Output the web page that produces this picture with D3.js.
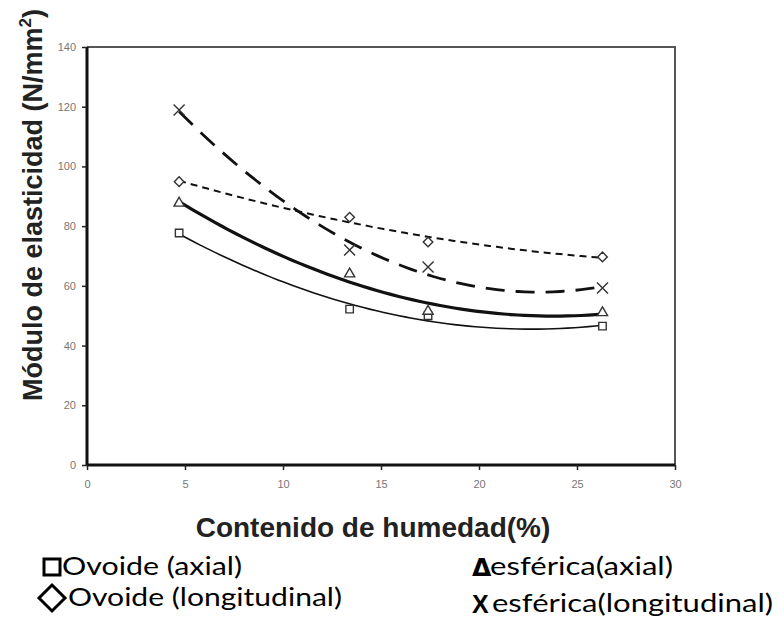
<!DOCTYPE html>
<html>
<head>
<meta charset="utf-8">
<script src="https://cdn.jsdelivr.net/npm/d3@7/dist/d3.min.js"></script>
<style>
  html, body { margin: 0; padding: 0; background: #fff; }
  svg { display: block; }
</style>
</head>
<body>
<svg id="chart" width="779" height="632"></svg>
<script>
// ---- data ----
const humedad = [4.7, 13.4, 17.4, 26.3];
const ovoideAxial = [77.7, 52.2, 50.0, 46.5];
const esfericaAxial = [87.7, 64.0, 51.5, 51.0];
const ovoideLongitudinal = [94.9, 83.0, 74.7, 69.7];
const esfericaLongitudinal = [118.9, 72.0, 66.3, 59.3];
const xTicks = [0, 5, 10, 15, 20, 25, 30];
const yTicks = [0, 20, 40, 60, 80, 100, 120, 140];
const xTitle = "Contenido de humedad(%)";
const yTitle = "Módulo de elasticidad (N/mm";
const legendLabels = ["Ovoide (axial)", "esférica(axial)", "Ovoide (longitudinal)", "esférica(longitudinal)"];

const svg = d3.select("#chart");
const M = { left: 87, right: 675, top: 47, bottom: 465 };
const x = d3.scaleLinear().domain([0, 30]).range([M.left, M.right]);
const y = d3.scaleLinear().domain([0, 140]).range([M.bottom, M.top]);

// frame (top/right)
svg.append("path")
  .attr("d", `M${M.left},${M.top}H${M.right}V${M.bottom}`)
  .attr("fill", "none").attr("stroke", "#555").attr("stroke-width", 2);

// axes
const gx = svg.append("g").attr("transform", `translate(0,${M.bottom})`)
  .call(d3.axisBottom(x).tickValues(xTicks).tickSize(5).tickPadding(10).tickFormat(d3.format("d")));
const gy = svg.append("g").attr("transform", `translate(${M.left},0)`)
  .call(d3.axisLeft(y).tickValues(yTicks).tickSize(5).tickPadding(6).tickFormat(d3.format("d")));
[gx, gy].forEach(g => {
  g.select(".domain").attr("stroke", "#111").attr("stroke-width", 3);
  g.selectAll(".tick line").attr("stroke", "#222").attr("stroke-width", 1.5);
  g.selectAll(".tick text").attr("fill", "#777").attr("font-family", "Liberation Sans, Arial, sans-serif").attr("font-size", 11);
});
gx.select(".domain").attr("d", `M${M.left},0H${M.right}`);
gy.select(".domain").attr("d", `M0,${M.bottom}V${M.top}`);

// quadratic least-squares trend line
function quadFit(xs, ys) {
  let s = [0,0,0,0,0], t = [0,0,0];
  xs.forEach((xi, i) => {
    for (let k = 0; k <= 4; k++) s[k] += Math.pow(xi, k);
    for (let k = 0; k <= 2; k++) t[k] += ys[i] * Math.pow(xi, k);
  });
  const A = [[s[0], s[1], s[2]], [s[1], s[2], s[3]], [s[2], s[3], s[4]]];
  const det = m => m[0][0]*(m[1][1]*m[2][2]-m[1][2]*m[2][1]) - m[0][1]*(m[1][0]*m[2][2]-m[1][2]*m[2][0]) + m[0][2]*(m[1][0]*m[2][1]-m[1][1]*m[2][0]);
  const D = det(A);
  const coef = [0,1,2].map(c => det(A.map((row, r) => row.map((v, j) => j === c ? t[r] : v))) / D);
  return xv => coef[0] + coef[1]*xv + coef[2]*xv*xv;
}

const series = [
  { vals: ovoideAxial, width: 1.6, dash: null, marker: "square" },
  { vals: esfericaAxial, width: 3.2, dash: null, marker: "triangle" },
  { vals: ovoideLongitudinal, width: 2, dash: "7,5", marker: "diamond" },
  { vals: esfericaLongitudinal, width: 2.8, dash: "19,11", marker: "cross" }
];

const line = d3.line().x(d => x(d[0])).y(d => y(d[1]));
const x0 = d3.min(humedad), x1 = d3.max(humedad);
const samples = d3.range(0, 61).map(i => x0 + (x1 - x0) * i / 60);

series.forEach(s => {
  const f = quadFit(humedad, s.vals);
  svg.append("path")
    .attr("d", line(samples.map(xv => [xv, f(xv)])))
    .attr("fill", "none").attr("stroke", "#111")
    .attr("stroke-width", s.width)
    .attr("stroke-dasharray", s.dash);
});

const symbolPath = {
  square: d3.symbol(d3.symbolSquare, 56)(),
  triangle: d3.symbol(d3.symbolTriangle, 45)(),
  diamond: "M0,-4.8L4.8,0L0,4.8L-4.8,0Z",
  cross: "M-5.5,-5.5L5.5,5.5M5.5,-5.5L-5.5,5.5"
};
series.forEach(s => {
  svg.append("g").selectAll("path").data(s.vals).join("path")
    .attr("transform", (d, i) => `translate(${x(humedad[i])},${y(d)})`)
    .attr("d", symbolPath[s.marker])
    .attr("fill", s.marker === "cross" ? "none" : "#fff")
    .attr("stroke", "#333").attr("stroke-width", 1.4);
});

// axis titles
svg.append("text")
  .attr("x", 373).attr("y", 537).attr("text-anchor", "middle")
  .attr("font-family", "Liberation Sans, Arial, sans-serif").attr("font-weight", "bold")
  .attr("font-size", 28).attr("fill", "#222").text(xTitle);

const yt = svg.append("text")
  .attr("transform", "translate(42,205) rotate(-90)").attr("text-anchor", "middle")
  .attr("font-family", "Liberation Sans, Arial, sans-serif").attr("font-weight", "bold")
  .attr("font-size", 27).attr("fill", "#222");
yt.append("tspan").text(yTitle);
yt.append("tspan").attr("dy", -11).attr("font-size", 17).text("2");
yt.append("tspan").attr("dy", 11).text(")");

// legend
const lf = "Lato, 'Open Sans', sans-serif";
svg.append("rect").attr("x", 44).attr("y", 559).attr("width", 16).attr("height", 16)
  .attr("fill", "none").attr("stroke", "#000").attr("stroke-width", 3);
svg.append("path").attr("d", "M52,585L65,598L52,611L39,598Z")
  .attr("fill", "none").attr("stroke", "#000").attr("stroke-width", 3).attr("stroke-linejoin", "miter");
svg.append("text").attr("x", 472).attr("y", 576).attr("font-family", "'DejaVu Sans', sans-serif")
  .attr("font-weight", "bold").attr("font-size", 25).attr("fill", "#000").text("Δ");
svg.append("text").attr("x", 472).attr("y", 613).attr("font-family", "'Liberation Sans', sans-serif")
  .attr("font-weight", "bold").attr("font-size", 25).attr("fill", "#000").text("X");

const legendPos = [
  { x: 62, y: 575, w: 180 },
  { x: 490, y: 575, w: 183 },
  { x: 68, y: 606, w: 274 },
  { x: 492, y: 612, w: 281 }
];
legendLabels.forEach((t, i) => {
  svg.append("text").attr("x", legendPos[i].x).attr("y", legendPos[i].y)
    .attr("font-family", lf).attr("font-size", 25).attr("fill", "#000")
    .attr("textLength", legendPos[i].w).attr("lengthAdjust", "spacingAndGlyphs")
    .text(t);
});
</script>
</body>
</html>
